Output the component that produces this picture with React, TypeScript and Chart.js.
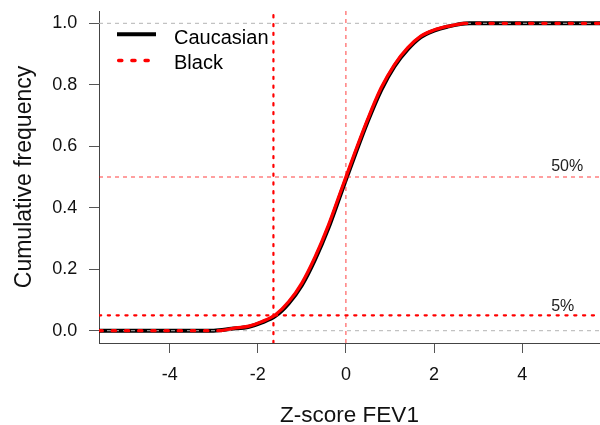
import React, { useEffect, useRef } from 'react';
import { Chart, registerables } from 'chart.js';

Chart.register(...registerables);

// ---- axis ranges and ticks ----
const X_MIN = -5.604;
const X_MAX = 5.767;
const Y_MIN = -0.04;
const Y_MAX = 1.04;
const xTicks = [-4, -2, 0, 2, 4];
const yTicks = [0, 0.2, 0.4, 0.6, 0.8, 1.0];

// ---- series ----
const seriesNames = ['Caucasian', 'Black'];

const caucasianZ = [-3.0, -2.6, -2.2, -1.9, -1.6, -1.3, -1.0, -0.7, -0.4, -0.1, 0.2, 0.5, 0.8, 1.1, 1.4, 1.7, 2.0, 2.3, 2.8];
const caucasianCum = [0.0, 0.006, 0.013, 0.027, 0.048, 0.089, 0.148, 0.232, 0.333, 0.452, 0.57, 0.683, 0.783, 0.86, 0.915, 0.955, 0.976, 0.989, 1.0];

const blackZ = [-2.83, -2.5, -2.2, -1.9, -1.6, -1.3, -1.0, -0.7, -0.4, -0.1, 0.2, 0.5, 0.8, 1.1, 1.4, 1.7, 2.0, 2.3, 2.67];
const blackCum = [0.0, 0.009, 0.015, 0.03, 0.052, 0.094, 0.155, 0.24, 0.342, 0.46, 0.578, 0.69, 0.79, 0.865, 0.92, 0.958, 0.978, 0.99, 1.0];

// ---- reference lines ----
const lowerLimitZ = -1.645;
const lowerLimitP = 0.05;
const medianZ = 0;
const medianP = 0.5;
const boundP = [0, 1];
const refLabels = ['50%', '5%'];
const refLabelZ = 4.66;

const FONT = "'Liberation Sans', Arial, Helvetica, sans-serif";

const pts = (xs: number[], ys: number[]) => xs.map((x, i) => ({ x, y: ys[i] }));

const noPad = (s: any) => {
  s.paddingTop = 0;
  s.paddingBottom = 0;
  s.paddingLeft = 0;
  s.paddingRight = 0;
};

const annotate = {
  id: 'annotate',
  afterDatasetsDraw(chart: any) {
    const { ctx, chartArea, scales } = chart;
    const xs = scales.x;
    const ys = scales.y;
    ctx.save();
    // percent labels
    ctx.font = `16px ${FONT}`;
    ctx.fillStyle = '#222';
    ctx.textAlign = 'left';
    ctx.textBaseline = 'middle';
    ctx.fillText(refLabels[0], xs.getPixelForValue(refLabelZ), ys.getPixelForValue(medianP) - 10);
    ctx.fillText(refLabels[1], xs.getPixelForValue(refLabelZ), ys.getPixelForValue(lowerLimitP) - 9);

    // legend
    const l = chartArea.left;
    const t = chartArea.top;
    ctx.lineCap = 'butt';
    ctx.strokeStyle = '#000';
    ctx.lineWidth = 4;
    ctx.setLineDash([]);
    ctx.beginPath();
    ctx.moveTo(l + 18, t + 23.3);
    ctx.lineTo(l + 57, t + 23.3);
    ctx.stroke();

    ctx.strokeStyle = '#ff0000';
    ctx.lineWidth = 3.3;
    ctx.lineCap = 'round';
    ctx.setLineDash([3.3, 9.9]);
    ctx.beginPath();
    ctx.moveTo(l + 19.6, t + 49.5);
    ctx.lineTo(l + 50, t + 49.5);
    ctx.stroke();
    ctx.setLineDash([]);

    ctx.font = `20px ${FONT}`;
    ctx.fillStyle = '#000';
    ctx.fillText(seriesNames[0], l + 75, t + 27.5);
    ctx.fillText(seriesNames[1], l + 75, t + 52);
    ctx.restore();
  },
};

export default function App() {
  const ref = useRef<HTMLCanvasElement | null>(null);

  useEffect(() => {
    document.body.style.margin = '0';
    document.body.style.overflow = 'hidden';
    if (!ref.current) return;
    Chart.defaults.font.family = FONT;

    const cauc = pts(caucasianZ, caucasianCum);
    const blk = pts(blackZ, blackCum);

    const chart = new Chart(ref.current, {
      type: 'scatter',
      data: {
        datasets: [
          // thin red dashed reference lines
          {
            data: [{ x: medianZ, y: Y_MIN }, { x: medianZ, y: Y_MAX }],
            borderColor: 'rgba(255,0,0,0.75)', borderWidth: 1, borderDash: [4, 4], order: 0,
          },
          {
            data: [{ x: X_MIN, y: medianP }, { x: X_MAX, y: medianP }],
            borderColor: 'rgba(255,0,0,0.75)', borderWidth: 1, borderDash: [4, 4], order: 0,
          },
          // thick red dotted reference lines
          {
            data: [{ x: lowerLimitZ, y: Y_MIN }, { x: lowerLimitZ, y: Y_MAX }],
            borderColor: '#ff0000', borderWidth: 2.2, borderDash: [2.2, 6.6], borderCapStyle: 'round', order: 0,
          },
          {
            data: [{ x: X_MIN, y: lowerLimitP }, { x: X_MAX, y: lowerLimitP }],
            borderColor: '#ff0000', borderWidth: 2.2, borderDash: [2.2, 6.6], borderCapStyle: 'round', order: 0,
          },
          // red (Black) ECDF
          {
            data: blk, borderColor: '#ff0000', borderWidth: 3.3, cubicInterpolationMode: 'monotone', order: 1,
          },
          {
            data: [{ x: X_MIN, y: blackCum[0] }, blk[0]],
            borderColor: '#ff0000', borderWidth: 3.3, borderDash: [3.3, 9.9], borderCapStyle: 'round', order: 1,
          },
          {
            data: [blk[blk.length - 1], { x: X_MAX, y: blackCum[blackCum.length - 1] }],
            borderColor: '#ff0000', borderWidth: 3.3, borderDash: [3.3, 9.9], borderCapStyle: 'round', order: 1,
          },
          // gray dashed at 0 and 1
          {
            data: [{ x: X_MIN, y: boundP[0] }, { x: X_MAX, y: boundP[0] }],
            borderColor: '#b3b3b3', borderWidth: 1, borderDash: [4, 4], order: 2,
          },
          {
            data: [{ x: X_MIN, y: boundP[1] }, { x: X_MAX, y: boundP[1] }],
            borderColor: '#b3b3b3', borderWidth: 1, borderDash: [4, 4], order: 2,
          },
          // black (Caucasian) ECDF
          {
            data: [{ x: X_MIN, y: caucasianCum[0] }, ...cauc, { x: X_MAX, y: caucasianCum[caucasianCum.length - 1] }],
            borderColor: '#000', borderWidth: 4, cubicInterpolationMode: 'monotone', order: 3,
          },
        ].map((d: any) => ({ showLine: true, pointRadius: 0, pointHoverRadius: 0, fill: false, ...d })),
      },
      options: {
        animation: false,
        responsive: false,
        events: [],
        layout: { padding: { top: 11, right: 0, left: 0, bottom: 0 } },
        plugins: { legend: { display: false }, tooltip: { enabled: false } },
        scales: {
          x: {
            type: 'linear',
            position: 'bottom',
            min: X_MIN,
            max: X_MAX,
            afterBuildTicks: (s: any) => { s.ticks = xTicks.map((v) => ({ value: v })); },
            afterFit: (s: any) => { s.height = 82; noPad(s); },
            ticks: {
              callback: (v: any) => String(v),
              font: { size: 18 },
              color: '#111',
              padding: 11.4,
              maxRotation: 0,
            },
            grid: { display: true, drawOnChartArea: false, drawTicks: true, tickLength: 10, color: '#555' },
            border: { display: true, color: '#444', width: 1 },
            title: {
              display: true,
              text: 'Z-score FEV1',
              color: '#111',
              font: { size: 22.5, lineHeight: 0.8 },
              padding: { top: 0, bottom: 0.5 },
            },
          },
          y: {
            type: 'linear',
            min: Y_MIN,
            max: Y_MAX,
            afterBuildTicks: (s: any) => { s.ticks = yTicks.map((v) => ({ value: v })); },
            afterFit: (s: any) => { s.width = 99; noPad(s); },
            ticks: {
              callback: (v: any) => Number(v).toFixed(1),
              font: { size: 18 },
              color: '#111',
              padding: 11.7,
            },
            grid: { display: true, drawOnChartArea: false, drawTicks: true, tickLength: 10, color: '#555' },
            border: { display: true, color: '#444', width: 1 },
            title: {
              display: true,
              text: 'Cumulative frequency',
              color: '#111',
              font: { size: 23, lineHeight: 1.2 },
              padding: { top: 10.4, bottom: 0 },
            },
          },
        },
      },
      plugins: [annotate],
    } as any);

    return () => chart.destroy();
  }, []);

  return (
    <div style={{ width: 600, height: 425 }}>
      <canvas ref={ref} width={600} height={425} style={{ display: 'block' }} />
    </div>
  );
}
